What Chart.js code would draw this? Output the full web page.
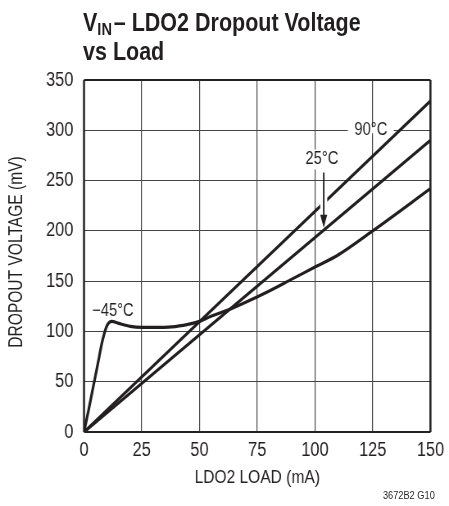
<!DOCTYPE html>
<html>
<head>
<meta charset="utf-8">
<script src="https://cdn.jsdelivr.net/npm/chart.js@4"></script>
<style>
  html, body { margin: 0; padding: 0; background: #fff; }
  #wrap { position: relative; width: 449px; height: 506px; overflow: hidden; }
  #title {
    position: absolute; left: 83px; top: 8px;
    font: bold 25px "Liberation Sans", Arial, sans-serif;
    color: #231f20; line-height: 29px; white-space: nowrap;
    transform: scaleX(0.86); transform-origin: left top;
  }
  #title sub { font-size: 17px; vertical-align: -4px; line-height: 0; }
  #code {
    position: absolute; right: 14px; top: 489px;
    font: 11px "Liberation Sans", Arial, sans-serif;
    color: #231f20; white-space: nowrap;
    transform: scaleX(0.84); transform-origin: right top;
  }
</style>
</head>
<body>
<div id="wrap">
  <!-- drawn 548 wide and shown at 449: gives the narrow lettering of the original -->
  <canvas id="chart" width="548" height="506" style="width:449px;height:506px;display:block"></canvas>
  <div id="title">V<sub>IN</sub>&#8202;– LDO2 Dropout Voltage<br>vs Load</div>
  <div id="code">3672B2 G10</div>
</div>
<script>
// data
const load90 = [0, 150];
const drop90 = [0, 329];
const load25 = [0, 150];
const drop25 = [0, 290];
const loadCold = [0, 2, 4, 6, 8, 10, 12, 15, 20, 25, 30, 38, 45, 50, 55, 62, 70, 80, 90, 100, 110, 125, 150];
const dropCold = [0, 22, 45, 68, 91, 106, 110, 108, 105, 104, 104, 104.5, 107, 110, 115, 121, 129, 140, 152, 164, 176, 200, 242];
const xTicks = [0, 25, 50, 75, 100, 125, 150];
const yTicks = [0, 50, 100, 150, 200, 250, 300, 350];

const SQ = 449 / 548;   // horizontal squeeze of the canvas
const FONT = '"Liberation Sans", Arial, sans-serif';
const INK = '#231f20';

const pts = (xs, ys) => xs.map((x, i) => ({ x: x, y: ys[i] }));

const lineStyle = {
  borderColor: INK, borderWidth: 3.2, pointRadius: 0, fill: false
};

// curve labels, arrow, y title, frame
const extras = {
  id: 'extras',
  afterDatasetsDraw(chart) {
    const { ctx, chartArea: a, scales: { x, y } } = chart;
    ctx.save();
    ctx.strokeStyle = '#222';
    ctx.lineWidth = 2;
    ctx.beginPath();
    ctx.moveTo(a.left, a.top); ctx.lineTo(a.right, a.top);
    ctx.moveTo(a.left, a.bottom); ctx.lineTo(a.right, a.bottom);
    ctx.stroke();
    ctx.lineWidth = 2 / SQ;
    ctx.beginPath();
    ctx.moveTo(a.left, a.top); ctx.lineTo(a.left, a.bottom);
    ctx.moveTo(a.right, a.top); ctx.lineTo(a.right, a.bottom);
    ctx.stroke();

    ctx.font = '18px ' + FONT;
    ctx.textAlign = 'center';
    ctx.textBaseline = 'middle';

    // 90°C, gridline cut behind it
    let px = x.getPixelForValue(124.2), py = y.getPixelForValue(300);
    ctx.fillStyle = '#fff';
    ctx.fillRect(px - 28, py - 3, 56, 6);
    ctx.fillStyle = INK;
    ctx.fillText('90°C', px, py);

    // 25°C with arrow
    px = x.getPixelForValue(103);
    py = y.getPixelForValue(271);
    ctx.fillStyle = '#fff';
    ctx.fillRect(px - 25, py - 10, 50, 20);
    ctx.fillStyle = INK;
    ctx.fillText('25°C', px, py);
    const ax = x.getPixelForValue(103.8);
    const ay0 = y.getPixelForValue(258), ay1 = y.getPixelForValue(203);
    // white halo where the arrow crosses the 90°C line
    ctx.strokeStyle = '#fff';
    ctx.lineWidth = 7 / SQ;
    ctx.beginPath();
    ctx.moveTo(ax, y.getPixelForValue(236));
    ctx.lineTo(ax, y.getPixelForValue(218));
    ctx.stroke();
    ctx.strokeStyle = INK;
    ctx.lineWidth = 1.5 / SQ;
    ctx.beginPath();
    ctx.moveTo(ax, ay0);
    ctx.lineTo(ax, ay1 - 8);
    ctx.stroke();
    ctx.beginPath();
    ctx.moveTo(ax, ay1);
    ctx.lineTo(ax - 4.3, ay1 - 13);
    ctx.lineTo(ax + 4.3, ay1 - 13);
    ctx.closePath();
    ctx.fill();

    // -45°C
    px = x.getPixelForValue(12.5);
    py = y.getPixelForValue(120);
    ctx.fillText('−45°C', px, py);

    // y axis title, narrowed along its length
    ctx.font = '19px ' + FONT;
    ctx.translate(17 / SQ, 252);
    ctx.scale(1 / SQ, SQ);
    ctx.rotate(-Math.PI / 2);
    ctx.fillText('DROPOUT VOLTAGE (mV)', 0, 0);
    ctx.restore();
  }
};

new Chart(document.getElementById('chart'), {
  type: 'line',
  data: {
    datasets: [
      { label: '90°C', data: pts(load90, drop90), ...lineStyle },
      { label: '25°C', data: pts(load25, drop25), ...lineStyle },
      { label: '-45°C', data: pts(loadCold, dropCold), cubicInterpolationMode: 'monotone', ...lineStyle }
    ]
  },
  options: {
    responsive: false,
    animation: false,
    layout: { padding: { left: 0, top: 80, right: 548 - 435.5 / SQ, bottom: 0 } },
    plugins: { legend: { display: false }, tooltip: { enabled: false } },
    scales: {
      x: {
        type: 'linear', min: 0, max: 150,
        afterBuildTicks: s => { s.ticks = xTicks.map(v => ({ value: v })); },
        afterFit: s => { s.height = 74; },
        ticks: { color: INK, font: { family: FONT, size: 20 }, padding: 6, maxRotation: 0 },
        grid: { color: '#444', lineWidth: 1.2, drawTicks: false },
        border: { display: false },
        title: {
          display: true, text: 'LDO2 LOAD (mA)', color: INK,
          font: { family: FONT, size: 19 }, padding: { top: 0, bottom: 17 }
        }
      },
      y: {
        min: 0, max: 350,
        afterBuildTicks: s => { s.ticks = yTicks.map(v => ({ value: v })); },
        afterFit: s => { s.width = 84 / SQ; },
        ticks: { color: INK, font: { family: FONT, size: 20 }, padding: 13 },
        grid: { color: '#444', lineWidth: 1, drawTicks: false },
        border: { display: false }
      }
    }
  },
  plugins: [extras]
});
</script>
</body>
</html>
